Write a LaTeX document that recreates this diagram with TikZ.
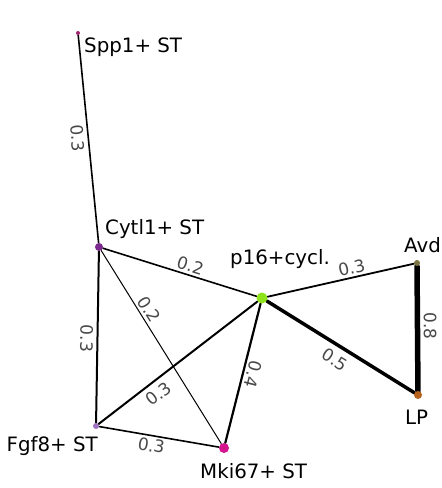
\documentclass[tikz,border=0pt]{standalone}
\usepackage{fontspec}
\setmainfont{DejaVu Sans}
\usetikzlibrary{positioning,calc,backgrounds}
\usepackage{xcolor}
\definecolor{sppcol}{RGB}{163,34,110}
\definecolor{cytcol}{RGB}{125,42,142}
\definecolor{p16col}{RGB}{143,227,26}
\definecolor{avdcol}{RGB}{123,117,67}
\definecolor{lpcol}{RGB}{181,98,29}
\definecolor{fgfcol}{RGB}{159,115,191}
\definecolor{mkicol}{RGB}{212,20,140}
\definecolor{weightgray}{RGB}{72,72,72}

\begin{document}
\begin{tikzpicture}[
    x=1pt, y=-1pt,
    dot/.style={circle, inner sep=0pt, draw=none},
    vname/.style={font=\fontsize{19.8}{22}\selectfont, inner sep=0pt},
    link/.style={draw=black, line cap=round},
    weight/.style={font=\fontsize{17}{19}\selectfont, text=weightgray,
                   inner sep=1.5pt, sloped}
]
\useasboundingbox (0,0) rectangle (442,488);

% cell states
\node[dot, fill=sppcol, minimum size=4pt] (spp) at (78,33) {};
\node[dot, fill=cytcol, minimum size=8pt] (cyt) at (99,247) {};
\node[dot, fill=p16col, minimum size=11pt] (p16) at (262,298) {};
\node[dot, fill=avdcol, minimum size=6pt] (avd) at (417,263) {};
\node[dot, fill=lpcol, minimum size=8pt] (lp) at (418,395) {};
\node[dot, fill=fgfcol, minimum size=6pt] (fgf) at (96,426) {};
\node[dot, fill=mkicol, minimum size=10pt] (mki) at (224,448) {};

% names
\node[vname, anchor=north west] (spp-name) at ([shift={(6,5)}]spp.center) {Spp1+ ST};
\node[vname, anchor=base west] (cyt-name) at ([shift={(6,-13)}]cyt.center) {Cytl1+ ST};
\node[vname, anchor=base west] (p16-name) at ([shift={(-32,-34)}]p16.center) {p16+cycl.};
\node[vname, anchor=base west] (avd-name) at ([shift={(-13,-11)}]avd.center) {Avd};
\node[vname, anchor=base west] (lp-name) at ([shift={(-13,29)}]lp.center) {LP};
\node[vname, anchor=base east] (fgf-name) at ([shift={(2,25)}]fgf.center) {Fgf8+ ST};
\node[vname, anchor=base west] (mki-name) at ([shift={(-24,30)}]mki.center) {Mki67+ ST};

% connections
\begin{scope}[on background layer]
\fill[white] (0,0) rectangle (442,488);
\draw[link, line width=1.6pt] (spp) -- node[weight, pos=0.49, below=2pt] {0.3} (cyt);
\draw[link, line width=1.6pt] (cyt) -- node[weight, pos=0.55, above=1pt] {0.2} (p16);
\draw[link, line width=1pt] (cyt) -- node[weight, pos=0.33, above=1pt] {0.2} (mki);
\draw[link, line width=2pt] (cyt) -- node[weight, pos=0.51, below=2pt, allow upside down] {0.3} (fgf);
\draw[link, line width=2pt] (fgf) -- node[weight, pos=0.33, below=4pt] {0.3} (p16);
\draw[link, line width=2.2pt] (p16) -- node[weight, pos=0.49, above=1pt, allow upside down] {0.4} (mki);
\draw[link, line width=1.8pt] (p16) -- node[weight, pos=0.59, above=1pt] {0.3} (avd);
\draw[link, line width=3.5pt] (p16) -- node[weight, pos=0.51, below=4pt] {0.5} (lp);
\draw[link, line width=5.5pt] (avd) -- node[weight, pos=0.48, above=2pt] {0.8} (lp);
\draw[link, line width=1.6pt] (fgf) -- node[weight, pos=0.45, below=1pt] {0.3} (mki);
\end{scope}

\end{tikzpicture}
\end{document}
